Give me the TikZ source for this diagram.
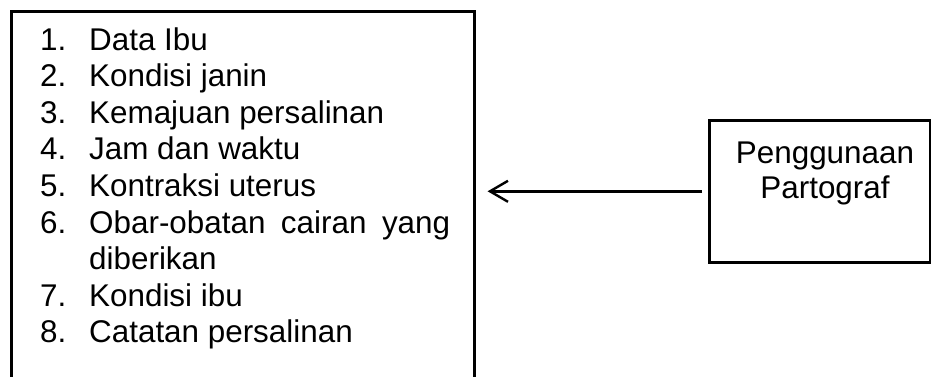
\documentclass[tikz,border=0pt]{standalone}
\usepackage{fontspec}
\setmainfont{Liberation Sans}
\usetikzlibrary{arrows.meta}
\begin{document}
\begin{tikzpicture}[x=1pt,y=-1pt,
  frame/.style={draw=black,line width=2.6pt,inner sep=0pt,anchor=north west},
  num/.style={inner sep=0pt,anchor=base west,font=\fontsize{31.4}{36.6}\selectfont},
  item/.style={inner sep=0pt,anchor=base west,font=\fontsize{31.4}{36.6}\selectfont},
  ctext/.style={inner sep=0pt,anchor=base,font=\fontsize{31.4}{36.6}\selectfont},
  arr/.style={line width=2.4pt,-{Straight Barb[length=18pt,width=21pt,line width=2.4pt]}}]
\useasboundingbox (0,0) rectangle (931,376);
\begin{scope}
\clip (0,0) rectangle (931,376);
\node[frame,minimum width=463pt,minimum height=390pt] (list) at (10,10) {};
\end{scope}
\node[frame,minimum width=221pt,minimum height=142pt] (pg) at (708,119) {};
% list items
\node[num] (n1) at (40,50) {1.};
\node[item] (t1) at (89,50) {Data Ibu};
\node[num] (n2) at (40,86.6) {2.};
\node[item] (t2) at (89,86.6) {Kondisi janin};
\node[num] (n3) at (40,123.2) {3.};
\node[item] (t3) at (89,123.2) {Kemajuan persalinan};
\node[num] (n4) at (40,159.8) {4.};
\node[item] (t4) at (89,159.8) {Jam dan waktu};
\node[num] (n5) at (40,196.4) {5.};
\node[item] (t5) at (89,196.4) {Kontraksi uterus};
\node[num] (n6) at (40,233) {6.};
\node[item] (t6) at (89,233) {\makebox[361pt][s]{Obar-obatan cairan yang}};
\node[item] (t6b) at (89,269.6) {diberikan};
\node[num] (n7) at (40,306.2) {7.};
\node[item] (t7) at (89,306.2) {Kondisi ibu};
\node[num] (n8) at (40,342.8) {8.};
\node[item] (t8) at (89,342.8) {Catatan persalinan};
% right box text
\node[ctext] (pg1) at (825,163) {Penggunaan};
\node[ctext] (pg2) at (825,198) {Partograf};
% arrow
\draw[arr] ([xshift=-6pt]pg.west) -- ([xshift=12pt]list.east |- pg.west);
\end{tikzpicture}
\end{document}
